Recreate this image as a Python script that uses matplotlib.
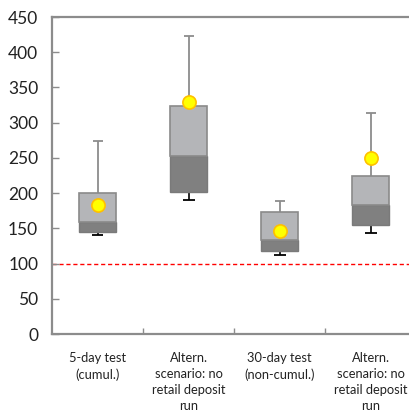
import numpy as np
import matplotlib.pyplot as plt

categories = ["5-day test\n(cumul.)", "Altern.\nscenario: no\nretail deposit\nrun",
              "30-day test\n(non-cumul.)", "Altern.\nscenario: no\nretail deposit\nrun"]
whisker_low = [141, 191, 112, 143]
box_low = [145, 201, 118, 155]
box_mid = [159, 253, 134, 183]
box_high = [200, 323, 173, 225]
whisker_high = [274, 423, 189, 314]
dots = [183, 329, 146, 250]
threshold = 100

plt.rcParams['font.family'] = ['Lato', 'DejaVu Sans']

fig = plt.figure(figsize=(4.1, 4.15), dpi=100)
ax = fig.add_axes([0.127, 0.195, 0.888, 0.764])

x = np.arange(len(categories))
w = 0.41
cap_hi = 0.055
cap_lo = 0.065

# whiskers
ax.vlines(x, box_high, whisker_high, color='#8c8c8c', lw=1.3, zorder=1)
ax.hlines(whisker_high, x - cap_hi, x + cap_hi, color='#8c8c8c', lw=1.3, zorder=1)
ax.vlines(x, whisker_low, box_low, color='black', lw=1.2, zorder=1)
ax.hlines(whisker_low, x - cap_lo, x + cap_lo, color='black', lw=1.3, zorder=1)

# boxes
low = np.array(box_low)
mid = np.array(box_mid)
high = np.array(box_high)
ax.bar(x, mid - low, bottom=low, width=w, color='#808080', edgecolor='#7a7a7a', lw=1.0, zorder=2)
ax.bar(x, high - mid, bottom=mid, width=w, color='#b4b5b8', edgecolor='#8a8a8a', lw=1.2, zorder=2)

# threshold
ax.axhline(threshold, color='#ff0000', ls=(0, (3, 2)), lw=1.0, zorder=1)

ax.plot(x, dots, 'o', ms=9.5, mfc='#ffff00', mec='#ffc000', mew=1.2, zorder=3, ls='none')

ax.set_xlim(-0.5, 3.5)
ax.set_ylim(0, 450)
ax.set_yticks(np.arange(0, 451, 50))
ax.set_xticks(x)
ax.set_xticklabels(categories, fontsize=9.3, color='#222222', linespacing=1.4)
ax.set_xticks(x[:-1] + 0.5, minor=True)
ax.tick_params(axis='x', which='major', length=0, pad=13)
ax.tick_params(axis='x', which='minor', direction='in', length=4, color='#8c8c8c', width=1)
ax.tick_params(axis='y', direction='in', length=5, color='#8c8c8c', width=1, labelsize=12.5,
               labelcolor='#222222', pad=10)
for s in ['left', 'top', 'bottom']:
    ax.spines[s].set_color('#8c8c8c')
    ax.spines[s].set_linewidth(1.6)
ax.spines['right'].set_visible(False)

fig.savefig('out.png', dpi=100)
